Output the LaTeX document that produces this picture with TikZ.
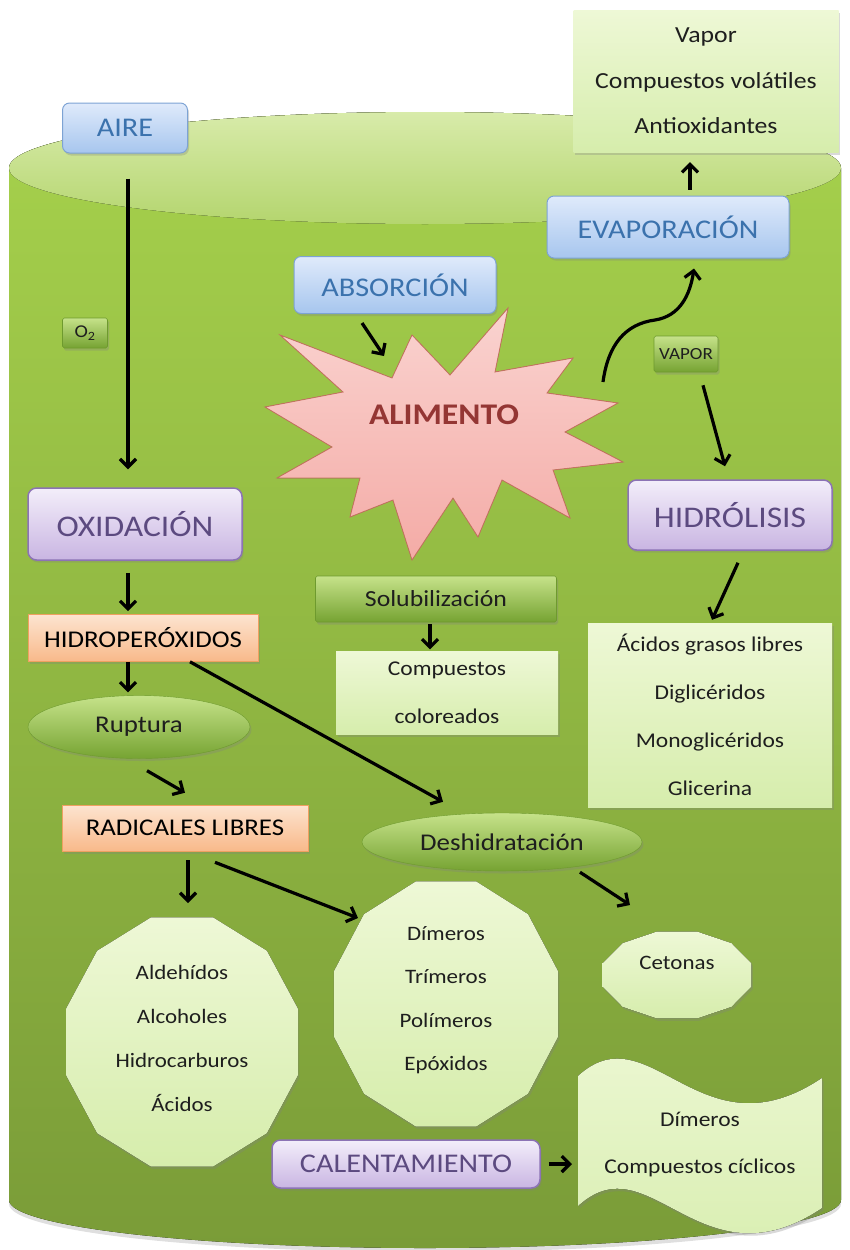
\documentclass[tikz,border=0pt]{standalone}
\usepackage{fontspec}
\setmainfont{Carlito}[FakeStretch=1.12]
\usetikzlibrary{shapes.geometric,arrows.meta,shadows,calc}

\definecolor{bodytop}{HTML}{A6D14C}
\definecolor{bodybot}{HTML}{7A9C38}
\definecolor{lidtop}{HTML}{D8EBAA}
\definecolor{lidbot}{HTML}{B4D56E}
\definecolor{bluetop}{HTML}{DFEAFB}
\definecolor{bluebot}{HTML}{A7C6EE}
\definecolor{bluedraw}{HTML}{7DA3D4}
\definecolor{bluetext}{HTML}{3B72AD}
\definecolor{purptop}{HTML}{F3EEFA}
\definecolor{purpbot}{HTML}{C9B5E2}
\definecolor{purpdraw}{HTML}{8C73B5}
\definecolor{purptext}{HTML}{5C4A80}
\definecolor{orantop}{HTML}{FDE4D0}
\definecolor{oranbot}{HTML}{F8B98A}
\definecolor{orandraw}{HTML}{F0A060}
\definecolor{grntop}{HTML}{C6E28A}
\definecolor{grnbot}{HTML}{76A332}
\definecolor{grndraw}{HTML}{6E9A2E}
\definecolor{lighttop}{HTML}{EEF8D6}
\definecolor{lightbot}{HTML}{D6EDAC}
\definecolor{startop}{HTML}{FAD3D0}
\definecolor{starbot}{HTML}{F4ABA6}
\definecolor{stardraw}{HTML}{C4725E}
\definecolor{startext}{HTML}{943634}
\definecolor{ink}{HTML}{1E1E1E}

\tikzset{
  shade/.style={drop shadow={opacity=0.3,shadow xshift=1.5pt,shadow yshift=-2.5pt}},
  bluebox/.style={shade, rounded corners=2.5mm, draw=bluedraw, line width=1pt,
    top color=bluetop, bottom color=bluebot, text=bluetext,
    font=\fontsize{27}{30}\selectfont},
  purpbox/.style={shade, rounded corners=3mm, draw=purpdraw, line width=1.5pt,
    top color=purptop, bottom color=purpbot, text=purptext},
  oranbox/.style={shade, draw=orandraw, line width=0.6pt, top color=orantop,
    bottom color=oranbot, text=black, font=\fontsize{24}{26}\selectfont},
  grnbox/.style={shade, rounded corners=0.6mm, draw=grndraw, line width=0.6pt,
    top color=grntop, bottom color=grnbot, text=ink},
  oval/.style={shade, ellipse, draw=grndraw, line width=0.4pt, top color=grntop,
    bottom color=grnbot, text=ink, font=\fontsize{24}{26}\selectfont},
  lightbox/.style={shade, top color=lighttop, bottom color=lightbot},
  txt/.style={align=center, text=ink, font=\fontsize{20.5}{46}\selectfont},
  arr/.style={-{Straight Barb[length=8pt,width=16pt]}, line width=3.2pt},
}

% twelve-sided blob: centre x, x radius, centre y, y radius
\newcommand{\dodeca}[4]{%
  \fill[lightbox] plot[samples=13, domain=15:375] ({#1+#2*cos(\x)},{#3+#4*sin(\x)}) -- cycle;}

\begin{document}
\begin{tikzpicture}[x=1pt, y=-1pt]
  \useasboundingbox (0,0) rectangle (849,1250);

  % cylinder
  \fill[top color=bodytop, bottom color=bodybot,
        drop shadow={opacity=0.25,shadow xshift=0pt,shadow yshift=-4pt}]
    (9,168) -- (9,1200) arc[start angle=180, end angle=0, x radius=416, y radius=48]
    -- (841,168) arc[start angle=0, end angle=-180, x radius=416, y radius=56] -- cycle;
  \fill[top color=lidtop, bottom color=lidbot] (425,168) ellipse[x radius=416, y radius=56];

  % food burst
  \fill[top color=startop, bottom color=starbot, draw=stardraw, line width=0.8pt]
    (280,335) -- (392,378) -- (412,335) -- (450,375) -- (508,308) -- (495,372)
    -- (573,358) -- (547,393) -- (618,403) -- (565,432) -- (623,462) -- (553,470)
    -- (570,518) -- (502,480) -- (478,537) -- (453,498) -- (412,560) -- (393,500)
    -- (350,517) -- (360,478) -- (277,478) -- (332,447) -- (265,407) -- (343,392) -- cycle;
  \node[font=\bfseries\fontsize{30}{32}\selectfont, text=startext] (alimento) at (444,415) {ALIMENTO};

  % boxes
  \node[bluebox, minimum width=125pt, minimum height=50pt] (aire) at (125,128) {AIRE};
  \node[bluebox, minimum width=242pt, minimum height=62pt] (evap) at (668,227) {EVAPORACIÓN};
  \node[bluebox, minimum width=202pt, minimum height=57pt] (absorc) at (395,285) {ABSORCIÓN};
  \node[lightbox, txt, minimum width=265pt, minimum height=142pt, font=\fontsize{23}{45.5}\selectfont]
    (vaporbox) at (706,81) {Vapor\\Compuestos volátiles\\Antioxidantes};

  \node[grnbox, minimum width=45pt, minimum height=30pt, font=\fontsize{18}{20}\selectfont]
    (otwo) at (85,333) {O\textsubscript{2}};
  \node[grnbox, minimum width=64pt, minimum height=36pt, font=\fontsize{17}{19}\selectfont]
    (vaporlbl) at (686,354) {VAPOR};

  \node[purpbox, minimum width=214pt, minimum height=72pt, font=\fontsize{30}{32}\selectfont]
    (oxid) at (135,524) {OXIDACIÓN};
  \node[purpbox, minimum width=204pt, minimum height=70pt, font=\fontsize{30}{32}\selectfont]
    (hidro) at (730,515) {HIDRÓLISIS};

  \node[oranbox, minimum width=230pt, minimum height=47pt] (hperox) at (143,638) {HIDROPERÓXIDOS};
  \node[grnbox, minimum width=241pt, minimum height=46pt, font=\fontsize{23}{25}\selectfont]
    (solub) at (436,599) {Solubilización};
  \node[lightbox, txt, minimum width=222pt, minimum height=83pt, font=\fontsize{21}{48}\selectfont]
    (coloreados) at (447,693) {Compuestos\\coloreados};
  \node[lightbox, txt, minimum width=244pt, minimum height=184pt, font=\fontsize{21}{48}\selectfont]
    (acidos) at (710,715) {Ácidos grasos libres\\Diglicéridos\\Monoglicéridos\\Glicerina};

  \node[oval, minimum width=222pt, minimum height=63pt] (ruptura) at (139,727) {Ruptura};
  \node[oranbox, minimum width=246pt, minimum height=46pt] (radicales) at (185,828) {RADICALES LIBRES};
  \node[oval, minimum width=280pt, minimum height=58pt] (deshid) at (502,842) {Deshidratación};

  % product blobs
  \dodeca{182}{120}{1042}{129}
  \node[txt, font=\fontsize{20.5}{44}\selectfont] (aldeh) at (182,1038)
    {Aldehídos\\Alcoholes\\Hidrocarburos\\Ácidos};
  \dodeca{446}{116}{1004}{127}
  \node[txt, font=\fontsize{20.5}{43.5}\selectfont] (dimeros) at (446,1000)
    {Dímeros\\Trímeros\\Polímeros\\Epóxidos};
  \dodeca{677}{77}{975}{45}
  \node[txt] (cetonas) at (677,963) {Cetonas};

  \fill[lightbox] (578,1076) .. controls (650,1010) and (700,1160) .. (822,1078)
    -- (822,1208) .. controls (700,1290) and (650,1140) .. (578,1206) -- cycle;
  \node[txt, font=\fontsize{21}{47}\selectfont] (ciclicos) at (700,1145)
    {Dímeros\\Compuestos cíclicos};

  \node[purpbox, minimum width=268pt, minimum height=48pt, font=\fontsize{27}{30}\selectfont]
    (calent) at (406,1164) {CALENTAMIENTO};

  % arrows
  \draw[arr] ($(aire.south)+(3,25)$) -- ($(oxid.north)+(-7,-18)$);
  \draw[arr] ($(evap.north)+(22,-6)$) -- ($(vaporbox.south)+(-16,10)$);
  \draw[arr] ($(absorc.south)+(-33,9)$) -- ($(alimento)+(-60,-59)$);
  \draw[arr] ($(alimento)+(159,-33)$) .. controls (608,345) and (625,324) .. (655,320)
    .. controls (680,316) and (690,295) .. ($(evap.south)+(26,10)$);
  \draw[arr] ($(vaporlbl.south)+(17,13)$) -- ($(hidro.north)+(-5,-13)$);
  \draw[arr] ($(oxid.south)+(-7,12)$) -- ($(hperox.north)+(-15,-3)$);
  \draw[arr] ($(solub.south)+(-6,2)$) -- ($(coloreados.north)+(-17,-2)$);
  \draw[arr] ($(hidro.south)+(8,12)$) -- ($(acidos.north)+(2,-3)$);
  \draw[arr] ($(hperox.south)+(-15,0)$) -- ($(ruptura.north)+(-11,-3)$);
  \draw[arr] ($(hperox.south)+(47,0)$) -- ($(deshid.north)+(-59,-11)$);
  \draw[arr] ($(ruptura.south)+(8,12)$) -- ($(radicales.north)+(0,-12)$);
  \draw[arr] ($(radicales.south)+(3,9)$) -- ($(aldeh)+(6,-135)$);
  \draw[arr] ($(radicales.south)+(30,11)$) -- ($(dimeros)+(-88,-82)$);
  \draw[arr] ($(deshid.south)+(78,1)$) -- ($(cetonas)+(-47,-58)$);
  \draw[arr] ($(calent.east)+(8,0)$) -- ($(ciclicos)+(-128,19)$);
\end{tikzpicture}
\end{document}
